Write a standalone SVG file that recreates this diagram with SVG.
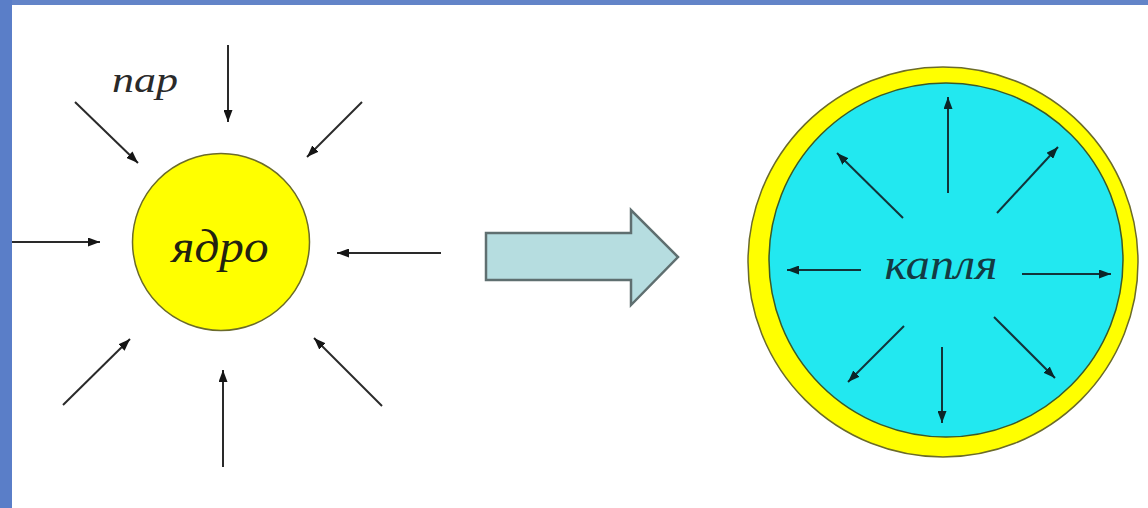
<svg xmlns="http://www.w3.org/2000/svg" width="1148" height="508" viewBox="0 0 1148 508">
<defs>
<marker id="ah" viewBox="0 0 12 9" refX="12" refY="4.5" markerWidth="12" markerHeight="9" markerUnits="userSpaceOnUse" orient="auto">
<path d="M0,0 L12,4.5 L0,9 Z" fill="#151515"/>
</marker>
<marker id="ah2" viewBox="0 0 12 9" refX="12" refY="4.5" markerWidth="12" markerHeight="9" markerUnits="userSpaceOnUse" orient="auto">
<path d="M0,0 L12,4.5 L0,9 Z" fill="#0b2528"/>
</marker>
</defs>
<style>
.ln{stroke:#2a2a2a;stroke-width:2;fill:none;marker-end:url(#ah)}
.ln2{stroke:#12333a;stroke-width:2;fill:none;marker-end:url(#ah2)}
.lbl{font-family:"Liberation Serif","DejaVu Serif",serif;font-style:italic;text-anchor:middle}
</style>
<rect x="0" y="0" width="1148" height="508" fill="#ffffff"/>
<rect x="0" y="0" width="1148" height="5" fill="#6384c8"/>
<rect x="0" y="0" width="12" height="508" fill="#5a7ec8"/>

<g id="core">
<circle cx="221" cy="242" r="88.5" fill="#ffff00" stroke="#6b6b2a" stroke-width="1.5"/>
<text class="lbl" x="220" y="262" font-size="46" fill="#222210" textLength="97" lengthAdjust="spacingAndGlyphs">ядро</text>
</g>

<g id="vapor-label">
<text class="lbl" x="145" y="92" font-size="36" fill="#2a2a2a" textLength="66" lengthAdjust="spacingAndGlyphs">пар</text>
</g>

<g id="transition-arrow">
<path d="M486,233 L631,233 L631,210 L678,257 L631,305 L631,280 L486,280 Z" fill="#b6dde0" stroke="#5f6f70" stroke-width="2.5" stroke-linejoin="miter"/>
</g>

<g id="drop">
<circle cx="943" cy="262" r="195" fill="#ffff00" stroke="#6b6b2a" stroke-width="1.5"/>
<circle cx="946" cy="260" r="177" fill="#22e8f0" stroke="#3a5a2a" stroke-width="1.5"/>
<text class="lbl" x="941" y="279" font-size="44" fill="#143a42" textLength="113" lengthAdjust="spacingAndGlyphs">капля</text>
</g>

<g id="connectors">
<line class="ln" x1="228" y1="45" x2="228" y2="122"/>
<line class="ln" x1="75" y1="102" x2="138" y2="163"/>
<line class="ln" x1="362" y1="102" x2="307" y2="157"/>
<line class="ln" x1="12" y1="242" x2="100" y2="242"/>
<line class="ln" x1="441" y1="253" x2="337" y2="253"/>
<line class="ln" x1="63" y1="405" x2="130" y2="339"/>
<line class="ln" x1="223" y1="467" x2="223" y2="370"/>
<line class="ln" x1="382" y1="406" x2="314" y2="338"/>

<line class="ln2" x1="948" y1="193" x2="948" y2="97"/>
<line class="ln2" x1="903" y1="218" x2="837" y2="153"/>
<line class="ln2" x1="997" y1="213" x2="1058" y2="147"/>
<line class="ln2" x1="861" y1="270" x2="787" y2="270"/>
<line class="ln2" x1="1022" y1="274" x2="1111" y2="274"/>
<line class="ln2" x1="904" y1="326" x2="848" y2="382"/>
<line class="ln2" x1="942" y1="347" x2="942" y2="423"/>
<line class="ln2" x1="994" y1="317" x2="1055" y2="378"/>
</g>
</svg>
